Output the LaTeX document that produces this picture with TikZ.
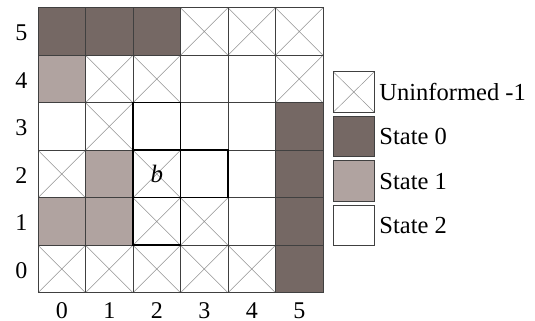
\documentclass[tikz,border=0pt]{standalone}
\usepackage{fontspec}
\setmainfont{Liberation Serif}
\usetikzlibrary{positioning}

\definecolor{stzero}{RGB}{117,104,100}
\definecolor{stone}{RGB}{176,163,160}

\begin{document}
\begin{tikzpicture}[
  x=47.5pt, y=47.5pt,
  cell/.style={rectangle, draw=black!75, line width=0.7pt, inner sep=0pt, outer sep=0pt, minimum size=47.5pt},
  unknown/.style={cell, fill=white, path picture={
      \draw[gray!85, line width=0.5pt] (path picture bounding box.south west) -- (path picture bounding box.north east)
        (path picture bounding box.north west) -- (path picture bounding box.south east);}},
  zero/.style={cell, fill=stzero},
  one/.style={cell, fill=stone},
  two/.style={cell, fill=white},
  hood/.style={draw=black, line width=1.6pt},
  axis/.style={font=\fontsize{24}{28}\selectfont, inner sep=0pt},
  keybox/.style={minimum width=41pt, minimum height=40.5pt},
  keytext/.style={font=\fontsize{24.5}{29}\selectfont, inner sep=0pt}
]

  \useasboundingbox (-0.8,-0.575) rectangle (10.463,6.162);

  % Row 5
  \node[zero] (c05) at (0.5,5.5) {};
  \node[zero] (c15) at (1.5,5.5) {};
  \node[zero] (c25) at (2.5,5.5) {};
  \node[unknown] (c35) at (3.5,5.5) {};
  \node[unknown] (c45) at (4.5,5.5) {};
  \node[unknown] (c55) at (5.5,5.5) {};

  % Row 4
  \node[one] (c04) at (0.5,4.5) {};
  \node[unknown] (c14) at (1.5,4.5) {};
  \node[unknown] (c24) at (2.5,4.5) {};
  \node[two] (c34) at (3.5,4.5) {};
  \node[two] (c44) at (4.5,4.5) {};
  \node[unknown] (c54) at (5.5,4.5) {};

  % Row 3
  \node[two] (c03) at (0.5,3.5) {};
  \node[unknown] (c13) at (1.5,3.5) {};
  \node[two] (c23) at (2.5,3.5) {};
  \node[two] (c33) at (3.5,3.5) {};
  \node[two] (c43) at (4.5,3.5) {};
  \node[zero] (c53) at (5.5,3.5) {};

  % Row 2
  \node[unknown] (c02) at (0.5,2.5) {};
  \node[one] (c12) at (1.5,2.5) {};
  \node[unknown] (c22) at (2.5,2.5) {};
  \node[two] (c32) at (3.5,2.5) {};
  \node[two] (c42) at (4.5,2.5) {};
  \node[zero] (c52) at (5.5,2.5) {};

  % Row 1
  \node[one] (c01) at (0.5,1.5) {};
  \node[one] (c11) at (1.5,1.5) {};
  \node[unknown] (c21) at (2.5,1.5) {};
  \node[unknown] (c31) at (3.5,1.5) {};
  \node[two] (c41) at (4.5,1.5) {};
  \node[zero] (c51) at (5.5,1.5) {};

  % Row 0
  \node[unknown] (c00) at (0.5,0.5) {};
  \node[unknown] (c10) at (1.5,0.5) {};
  \node[unknown] (c20) at (2.5,0.5) {};
  \node[unknown] (c30) at (3.5,0.5) {};
  \node[unknown] (c40) at (4.5,0.5) {};
  \node[zero] (c50) at (5.5,0.5) {};

  % Neighbourhood of b (bold outlines)
  \draw[hood] (c23.south west) rectangle (c23.north east);
  \draw[hood] (c22.south west) rectangle (c22.north east);
  \draw[hood] (c32.south west) rectangle (c32.north east);
  \draw[hood] (c21.south west) rectangle (c21.north east);
  \node[font=\fontsize{25}{29}\selectfont\itshape, inner sep=0pt] (bmark) at (c22) {b};

  % Row labels
  \node[axis] (r0) at (-0.35,0.47) {0};
  \node[axis] (r1) at (-0.35,1.47) {1};
  \node[axis] (r2) at (-0.35,2.47) {2};
  \node[axis] (r3) at (-0.35,3.47) {3};
  \node[axis] (r4) at (-0.35,4.47) {4};
  \node[axis] (r5) at (-0.35,5.47) {5};

  % Column labels
  \node[axis] (k0) at (0.5,-0.385) {0};
  \node[axis] (k1) at (1.5,-0.385) {1};
  \node[axis] (k2) at (2.5,-0.385) {2};
  \node[axis] (k3) at (3.5,-0.385) {3};
  \node[axis] (k4) at (4.5,-0.385) {4};
  \node[axis] (k5) at (5.5,-0.385) {5};

  % Legend
  \node[unknown, keybox] (key1) at (6.648,4.225) {};
  \node[zero, keybox, below=4pt of key1] (key2) {};
  \node[one, keybox, below=4pt of key2] (key3) {};
  \node[two, keybox, below=4pt of key3] (key4) {};
  \node[keytext, right=5pt of key1] (lab1) {Uninformed -1};
  \node[keytext, right=5pt of key2] (lab2) {State 0};
  \node[keytext, right=5pt of key3] (lab3) {State 1};
  \node[keytext, right=5pt of key4] (lab4) {State 2};

\end{tikzpicture}
\end{document}
